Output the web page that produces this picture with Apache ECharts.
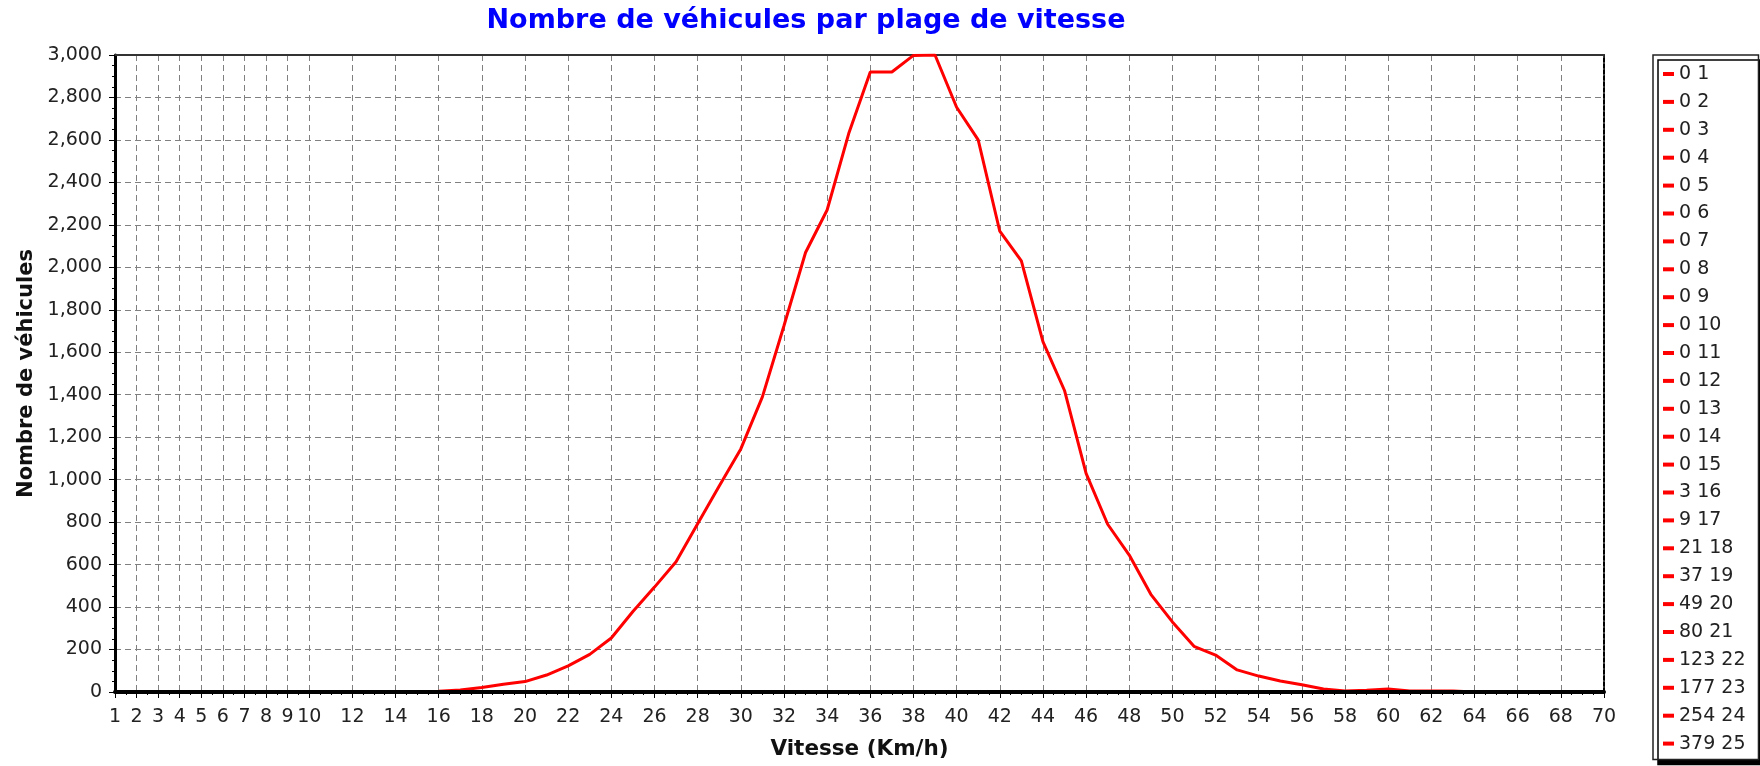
<!DOCTYPE html>
<html>
<head>
<meta charset="utf-8">
<title>Nombre de véhicules par plage de vitesse</title>
<script src="https://cdn.jsdelivr.net/npm/echarts@6/dist/echarts.min.js"></script>
<style>
    html, body { margin: 0; padding: 0; background: #fff; }
    #chart { width: 1760px; height: 766px; }
</style>
</head>
<body>
<div id="chart"></div>
<script type="text/javascript">
    // plages de vitesse (km/h)
    var speeds = ['1','2','3','4','5','6','7','8','9','10',
        '11','12','13','14','15','16','17','18','19','20',
        '21','22','23','24','25','26','27','28','29','30',
        '31','32','33','34','35','36','37','38','39','40',
        '41','42','43','44','45','46','47','48','49','50',
        '51','52','53','54','55','56','57','58','59','60',
        '61','62','63','64','65','66','67','68','69','70'];
    // nombre de véhicules par plage
    var counts = [0,0,0,0,0,0,0,0,0,0,
        0,0,0,0,0,3,9,21,37,49,
        80,123,177,254,379,494,613,792,970,1145,
        1390,1725,2070,2270,2630,2920,2920,2998,3000,2754,
        2600,2170,2030,1650,1420,1030,790,645,460,330,
        215,174,104,75,52,34,14,5,8,14,
        5,5,5,0,0,0,0,0,0,0];
    var yTicks = {min: 0, max: 3000, step: 200};
    var legendCount = 25;   // la boite de légende n'affiche que les 25 premiers points

    var FONT = 'DejaVu Sans';
    var showTick = function(index){
        var v = index + 1;
        return v <= 10 || v % 2 == 0;
    };

    var legendNames = [];
    var series = [{
        name: 'Nombre de véhicules',
        type: 'line',
        data: counts,
        xAxisIndex: 0,
        yAxisIndex: 0,
        symbol: 'none',
        clip: true,
        z: 2,
        lineStyle: {color: '#ff0000', width: 3},
        itemStyle: {color: '#ff0000'}
    }];
    for (var i = 0; i < legendCount; i++) {
        var n = counts[i] + ' ' + speeds[i];
        legendNames.push(n);
        series.push({name: n, type: 'line', data: [], symbol: 'none', lineStyle: {color: '#ff0000'}, itemStyle: {color: '#ff0000'}});
    }

    var myChart = echarts.init(document.getElementById('chart'));
    var option = {
        animation: false,
        color: ['#ff0000'],
        title: {
            text: 'Nombre de véhicules par plage de vitesse',
            left: 806,
            top: 7,
            padding: 0,
            textAlign: 'center',
            textStyle: {color: '#0000ff', fontSize: 27, fontWeight: 'bold', fontFamily: FONT}
        },
        legend: {
            data: legendNames,
            orient: 'vertical',
            left: 1653,
            top: 55,
            padding: [9, 13, 6, 10],
            itemGap: 7.9,
            itemWidth: 11,
            itemHeight: 4,
            icon: 'rect',
            selectedMode: false,
            backgroundColor: '#fff',
            borderColor: '#222',
            borderWidth: 1.5,
            shadowColor: '#000',
            shadowBlur: 0,
            shadowOffsetX: 5,
            shadowOffsetY: 5,
            textStyle: {fontFamily: FONT, fontSize: 19, color: '#222', lineHeight: 20}
        },
        grid: {left: 115, right: 156, top: 55, bottom: 74, containLabel: false},
        xAxis: [
            {
                type: 'category',
                data: speeds,
                boundaryGap: false,
                position: 'bottom',
                name: 'Vitesse (Km/h)',
                nameLocation: 'middle',
                nameGap: 46,
                nameTextStyle: {fontFamily: FONT, fontSize: 21.5, fontWeight: 'bold', color: '#111'},
                axisLine: {show: false},
                axisTick: {show: true, interval: showTick, length: 6, lineStyle: {color: '#000'}},
                axisLabel: {interval: showTick, margin: 16, fontFamily: FONT, fontSize: 19, color: '#222'},
                splitLine: {show: true, interval: showTick, lineStyle: {color: '#808080', width: 1, type: [6, 4]}}
            },
            {
                // trait de l'axe + petites graduations, dessiné au-dessus de la courbe
                type: 'value',
                min: 1,
                max: 70,
                interval: 0.5,
                position: 'bottom',
                z: 10,
                axisLine: {show: true, onZero: false, lineStyle: {color: '#000', width: 4}},
                axisTick: {show: true, length: 3, lineStyle: {color: '#000'}},
                axisLabel: {show: false},
                splitLine: {show: false}
            },
            {
                type: 'value',
                min: 1,
                max: 70,
                position: 'top',
                axisLine: {show: true, onZero: false, lineStyle: {color: '#333', width: 2}},
                axisTick: {show: false},
                axisLabel: {show: false},
                splitLine: {show: false}
            }
        ],
        yAxis: [
            {
                type: 'value',
                min: yTicks.min,
                max: yTicks.max,
                interval: yTicks.step,
                position: 'left',
                name: 'Nombre de véhicules',
                nameLocation: 'middle',
                nameGap: 76,
                nameTextStyle: {fontFamily: FONT, fontSize: 21, fontWeight: 'bold', color: '#111'},
                axisLine: {show: true, onZero: false, lineStyle: {color: '#000', width: 3}},
                axisTick: {show: true, length: 6, lineStyle: {color: '#000'}},
                minorTick: {show: true, splitNumber: 4, length: 3, lineStyle: {color: '#000'}},
                axisLabel: {
                    margin: 13, fontFamily: FONT, fontSize: 19, color: '#222',
                    formatter: function(v){ return v.toLocaleString('en-US'); }
                },
                splitLine: {show: true, lineStyle: {color: '#808080', width: 1, type: [6, 4]}}
            },
            {
                type: 'value',
                min: yTicks.min,
                max: yTicks.max,
                position: 'right',
                axisLine: {show: true, onZero: false, lineStyle: {color: '#000', width: 2, type: [4, 2]}},
                axisTick: {show: false},
                axisLabel: {show: false},
                splitLine: {show: false}
            }
        ],
        series: series
    };
    myChart.setOption(option);
</script>
</body>
</html>
